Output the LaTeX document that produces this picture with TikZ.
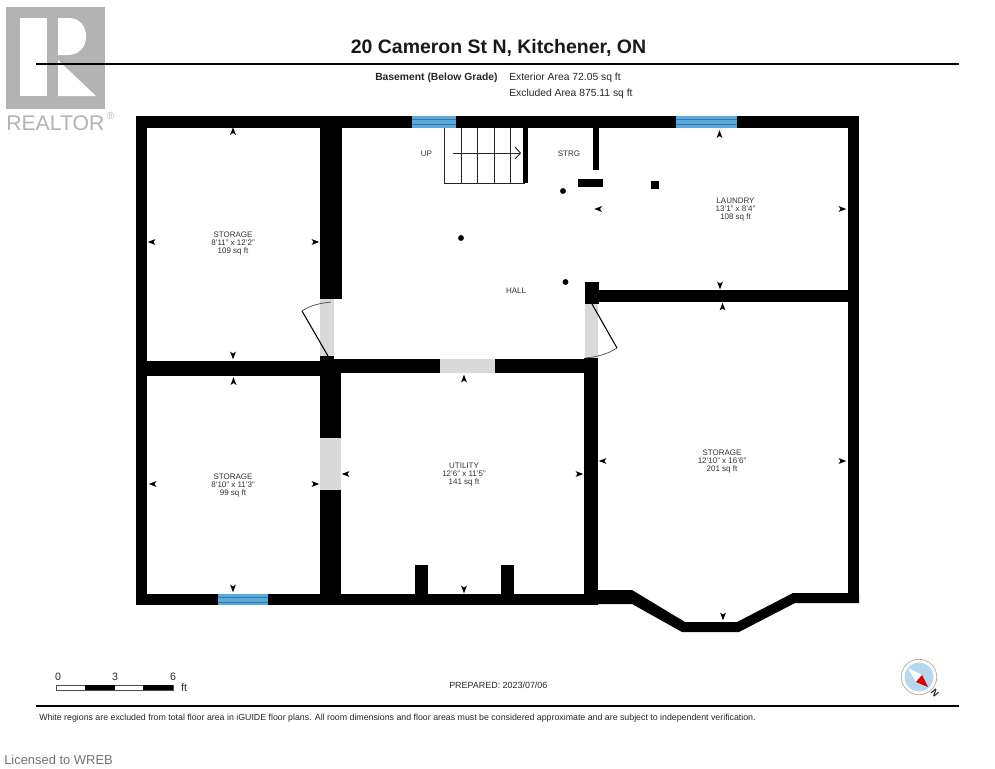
\documentclass[tikz,border=0pt]{standalone}
\usepackage{fontspec}
\setmainfont{Liberation Sans}
\definecolor{doorg}{HTML}{D9D9D9}
\definecolor{winb}{HTML}{5AA9D8}
\definecolor{wind}{HTML}{2F78AC}
\definecolor{logog}{HTML}{B3B3B3}
\definecolor{txtc}{HTML}{333333}
\definecolor{compassb}{HTML}{B5D8F0}
\tikzset{
  wall/.style={fill=black,draw=none},
  opening/.style={fill=doorg,draw=none},
  leaf/.style={draw=black,line width=0.8pt},
  swing/.style={draw=black!65,line width=0.6pt},
  rule/.style={draw=black,line width=1.3pt},
  room/.style={font=\fontsize{6}{6.2}\selectfont,text=txtc,align=center,inner sep=0pt},
  tread/.style={draw=black!85,line width=0.7pt},
  info/.style={font=\fontsize{7.75}{8}\selectfont,text=black!85,anchor=west,inner sep=0pt},
  scalelab/.style={font=\fontsize{8}{8}\selectfont,text=black!85,inner sep=0pt},
}
\newcommand{\tipmark}[3]{\fill[black,shift={(#1,#2)},rotate=#3] (3.2pt,0) -- (-2.6pt,2.2pt) -- (-1.1pt,0) -- (-2.6pt,-2.2pt) -- cycle;}
\newcommand{\winbox}[4]{%
  \fill[winb] (#1,#2) rectangle (#3,#4);
  \draw[wind,line width=0.6pt] (#1,{#2+3.5}) -- (#3,{#2+3.5}) (#1,{#2+8.5}) -- (#3,{#2+8.5});}
\begin{document}
\begin{tikzpicture}[x=0.75pt,y=-0.75pt]
\useasboundingbox[fill=white] (0,0) rectangle (995,768);
% logo
\fill[logog] (6,7) rectangle (105,109);
\fill[white] (20,18) rectangle (47,96);
\fill[white] (58,18) -- (68,18) .. controls (80,18) and (86,26) .. (86,37) .. controls (86,48) and (78,55) .. (68,55) -- (58,55) -- cycle;
\fill[white] (58,60) -- (96,96) -- (58,96) -- cycle;
\node[inner sep=0pt,anchor=west,text=logog,font=\fontsize{15.9}{16}\selectfont] (realtor) at (6,123.5) {REALTOR};
\node[inner sep=0pt,text=logog,font=\fontsize{7.5}{8}\selectfont] (regmark) at (110.5,116) {®};
% rules
\draw[rule] (36,64) -- (959,64);
\draw[rule] (36,706) -- (959,706);
% header text
\node[inner sep=0pt,font=\bfseries\fontsize{14.6}{16}\selectfont,text=black!90] (title) at (498.5,47.8) {20 Cameron St N, Kitchener, ON};
\node[info,font=\bfseries\fontsize{7.75}{8}\selectfont] (level) at (375,77.5) {Basement (Below Grade)};
\node[info] (ext) at (509,77.5) {Exterior Area 72.05 sq ft};
\node[info] (exc) at (509,93.5) {Excluded Area 875.11 sq ft};
% outer walls
\fill[wall] (136,116) rectangle (859,128);
\fill[wall] (136,116) rectangle (147,605);
\fill[wall] (848,116) rectangle (859,603);
\fill[wall] (136,594) rectangle (598,605);
\fill[wall] (584,590) -- (632,590) -- (685,622) -- (737,622) -- (793,593) -- (859,593) -- (859,603) -- (795,603) -- (739,632) -- (682,632) -- (632,604) -- (584,604) -- cycle;
% interior walls
\fill[wall] (320,128) rectangle (342,299);
\fill[wall] (147,361) rectangle (322,376);
\fill[wall] (320,356) rectangle (334,360);
\fill[wall] (320,359) rectangle (585,373);
\fill[wall] (320,373) rectangle (341,438);
\fill[wall] (320,490) rectangle (341,594);
\fill[wall] (584,358) rectangle (598,594);
\fill[wall] (585,282) rectangle (599,304);
\fill[wall] (598,290) rectangle (848,302);
% openings
\fill[opening] (320,299) rectangle (334,356);
\fill[opening] (585,304) rectangle (598,358);
\fill[opening] (440,359) rectangle (495,373);
\fill[opening] (320,438) rectangle (341,490);
% door leaves
\draw[leaf] (302,311) -- (328,356);
\draw[swing] (302,311) .. controls (311,305) and (321,303) .. (331,302);
\draw[leaf] (592,304) -- (617,348);
\draw[swing] (617,348) .. controls (608,354) and (597,357) .. (585,358);
% windows
\winbox{412}{116}{456}{128}
\winbox{676}{116}{737}{128}
\winbox{218}{594}{268}{605}
% stairs
\draw[tread] (444,128) -- (444,183) -- (525,183);
\foreach \sx in {461,477,494,510}{\draw[tread] (\sx,128) -- (\sx,183);}
\fill[wall] (523,128) rectangle (528,183);
\draw[tread] (453,153) -- (520,153);
\draw[tread] (515,147) -- (520.5,153) -- (515,159);
% fixtures
\fill[wall] (593,128) rectangle (599,170);
\fill[wall] (578,179) rectangle (603,187);
\fill[wall] (651,181) rectangle (659,189);
\fill[black] (563,191) circle (2.2pt);
\fill[black] (461,238) circle (2.2pt);
\fill[black] (565.5,282) circle (2.2pt);
\fill[wall] (415,565) rectangle (428,594);
\fill[wall] (501,565) rectangle (514,594);
% dimension tips
\tipmark{233}{131.5}{90}\tipmark{152}{242}{180}\tipmark{315}{242}{0}\tipmark{233}{355}{-90}
\tipmark{233.5}{381.5}{90}\tipmark{153}{484}{180}\tipmark{315}{484}{0}\tipmark{233}{588}{-90}
\tipmark{464}{379}{90}\tipmark{346}{474}{180}\tipmark{579}{474}{0}\tipmark{464}{589}{-90}
\tipmark{719.5}{134.5}{90}\tipmark{598.5}{209}{180}\tipmark{842}{209}{0}\tipmark{720}{285}{-90}
\tipmark{722.5}{307}{90}\tipmark{603}{461}{180}\tipmark{842}{461}{0}\tipmark{723}{616}{-90}
% room labels
\node[room] (r1) at (233,243.7) {STORAGE\\8'11" x 12'2"\\109 sq ft};
\node[room] (r2) at (233,485.5) {STORAGE\\8'10" x 11'3"\\99 sq ft};
\node[room] (r3) at (464,474.5) {UTILITY\\12'6" x 11'5"\\141 sq ft};
\node[room] (r4) at (735.5,209.5) {LAUNDRY\\13'1" x 8'4"\\108 sq ft};
\node[room] (r5) at (722,461.5) {STORAGE\\12'10" x 16'6"\\201 sq ft};
\node[room] (r6) at (516,291) {HALL};
\node[room] (r7) at (426.5,153.5) {UP};
\node[room] (r8) at (569,154) {STRG};
% scale bar
\draw[black!70,line width=0.4pt,fill=white] (56,685) rectangle (173,690);
\fill[black] (85,685) rectangle (115,690);
\fill[black] (143,685) rectangle (173,690);
\node[scalelab] (s0) at (58,677) {0};
\node[scalelab] (s3) at (115,677) {3};
\node[scalelab] (s6) at (173,677) {6};
\node[scalelab] (sft) at (184,688) {ft};
\node[inner sep=0pt,anchor=west,font=\fontsize{6.7}{8}\selectfont,text=black!85] (prep) at (449,685) {PREPARED: 2023/07/06};
% compass
\draw[draw=brown!50!gray!60,line width=0.6pt,fill=white] (919,677) circle (13.3pt);
\fill[compassb] (919,677) circle (10.8pt);
\fill[white] (908,668) -- (922,675) -- (916,682) -- cycle;
\fill[red!85!black] (928,687) -- (922,675) -- (916,682) -- cycle;
\node[inner sep=0pt,rotate=-50,font=\bfseries\fontsize{7}{7}\selectfont,text=black!85] (north) at (935,693.5) {N};
% footer
\node[inner sep=0pt,anchor=west,font=\fontsize{6.6}{8}\selectfont,text=black!85] (foot) at (39,718) {White regions are excluded from total floor area in iGUIDE floor plans. All room dimensions and floor areas must be considered approximate and are subject to independent verification.};
\node[inner sep=0pt,anchor=west,font=\fontsize{9.7}{10}\selectfont,text=black!55] (lic) at (4,760) {Licensed to WREB};
\end{tikzpicture}
\end{document}
